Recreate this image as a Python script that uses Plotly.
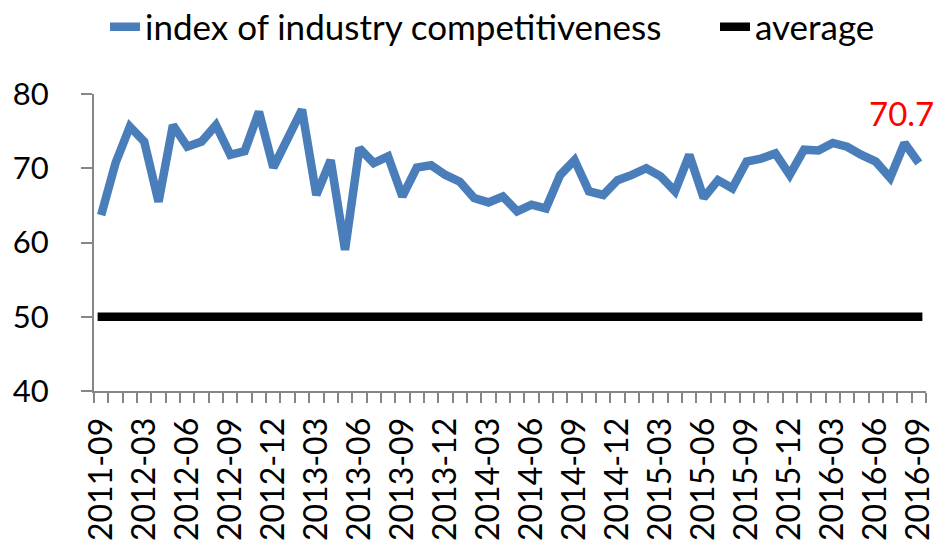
import plotly.graph_objects as go

categories = ["2011-09", "2011-12", "2012-02"] + [
    f"{y}-{m:02d}" for y in range(2012, 2017) for m in range(1, 13)
    if (y, m) >= (2012, 3) and (y, m) <= (2016, 9)
]

index_values = [63.7, 70.7, 75.6, 73.6, 65.5, 75.8, 72.9, 73.6, 75.8, 71.8,
                72.3, 77.6, 70.1, 74.3, 77.9, 66.4, 71.1, 59.0, 72.7, 70.7,
                71.6, 66.2, 70.1, 70.4, 69.1, 68.2, 66.0, 65.4, 66.2, 64.2,
                65.1, 64.6, 69.1, 71.1, 66.9, 66.4, 68.4, 69.1, 70.0, 68.9,
                66.9, 71.8, 66.0, 68.4, 67.3, 70.9, 71.3, 72.0, 69.1, 72.5,
                72.4, 73.4, 72.9, 71.8, 70.9, 68.7, 73.4, 70.7]
average_values = [50] * len(categories)

tick_labels = categories[::3]
y_ticks = [40, 50, 60, 70, 80]

xpos = list(range(len(categories)))

FONT = "Lato"
fig = go.Figure()
fig.add_trace(go.Scatter(
    x=xpos, y=index_values, mode="lines", name="index of industry competitiveness",
    line=dict(color="#4A7EBB", width=8.5), xaxis="x", yaxis="y", legend="legend"))
fig.add_trace(go.Scatter(
    x=xpos, y=average_values, mode="lines", name="average",
    line=dict(color="#000000", width=8.5), xaxis="x2", yaxis="y", legend="legend2"))

fig.add_annotation(x=xpos[-1], y=index_values[-1], text=f"{index_values[-1]}",
                   showarrow=False, xanchor="center", yanchor="middle",
                   xshift=-17, yshift=50,
                   font=dict(family=FONT, size=33, color="#FF0000"))

legend_common = dict(orientation="h", xref="container", yref="container",
                     xanchor="left", y=1 - 27 / 541, yanchor="middle",
                     font=dict(family=FONT, size=35), itemwidth=30,
                     bgcolor="rgba(0,0,0,0)")

fig.update_layout(
    width=937, height=541,
    margin=dict(l=94, r=11, t=94, b=150, autoexpand=False),
    paper_bgcolor="white", plot_bgcolor="white",
    font=dict(family=FONT, color="black"),
    showlegend=True,
    legend=dict(x=105 / 937, **legend_common),
    legend2=dict(x=715 / 937, **legend_common),
    xaxis=dict(range=[-0.5, len(categories) - 0.5], showgrid=False, zeroline=False,
               automargin=False,
               showline=True, linecolor="#868686", linewidth=2,
               tickmode="array", tickvals=xpos[::3], ticktext=tick_labels,
               ticks="", tickangle=-90, tickfont=dict(family=FONT, size=32),
               ticklabelstandoff=12,
               minor=dict(ticks="outside", tick0=-0.5, dtick=1, ticklen=10,
                          tickcolor="#868686", tickwidth=2, showgrid=False)),
    xaxis2=dict(range=[-0.25, len(categories) - 0.75], overlaying="x",
                visible=False, showgrid=False, zeroline=False),
    yaxis=dict(range=[40, 80], tickvals=y_ticks, showgrid=False, zeroline=False,
               automargin=False,
               showline=True, linecolor="#868686", linewidth=2,
               ticks="outside", ticklen=11, tickcolor="#868686", tickwidth=2,
               tickfont=dict(family=FONT, size=31), ticklabelstandoff=26),
)

fig.write_html("out.html", config={"displayModeBar": False},
               post_script="document.body.style.margin='0';document.body.style.overflow='hidden';")
